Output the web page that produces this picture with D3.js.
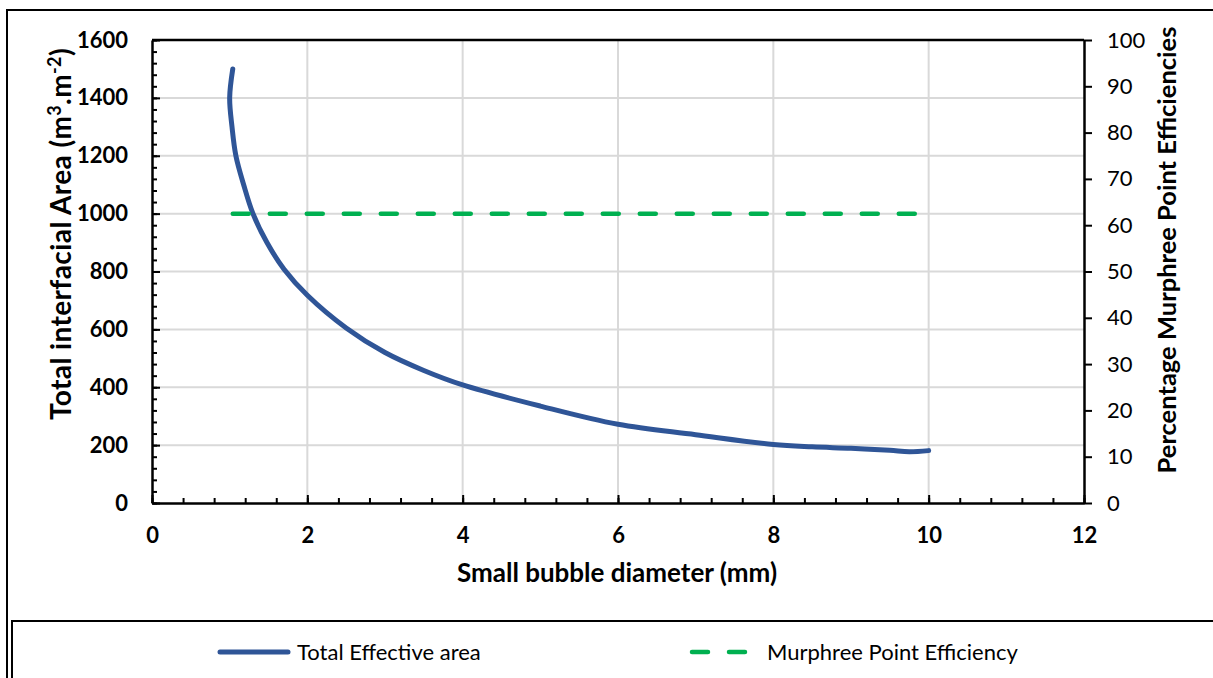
<!DOCTYPE html>
<html>
<head>
<meta charset="utf-8">
<script src="https://cdn.jsdelivr.net/npm/d3@7"></script>
<style>
  body { margin: 0; background: #fff; }
  text { font-family: Lato, "Open Sans", sans-serif; fill: #000; }
</style>
</head>
<body>
<script>
// diameter (mm) vs total effective area
var diameter = [1.04, 1.0, 1.03, 1.08, 1.18, 1.30, 1.48, 1.70, 2.0, 2.5, 3.0, 3.5, 4.0, 5.0, 6.0, 7.0, 8.0, 8.5, 9.0, 9.5, 9.75, 10.0]
var area = [1500, 1400, 1300, 1200, 1100, 1000, 900, 808, 718, 605, 520, 458, 408, 335, 272, 236, 202, 194, 189, 182, 177, 181]

// murphree point efficiency (%) - flat
var effDiameter = [1.04, 2, 3, 4, 5, 6, 7, 8, 9, 10]
var efficiency = [62.5, 62.5, 62.5, 62.5, 62.5, 62.5, 62.5, 62.5, 62.5, 62.5]

var xTicks = [0, 2, 4, 6, 8, 10, 12]
var leftTicks = [0, 200, 400, 600, 800, 1000, 1200, 1400, 1600]
var rightTicks = [0, 10, 20, 30, 40, 50, 60, 70, 80, 90, 100]

var seriesNames = ["Total Effective area", "Murphree Point Efficiency"]

var w = 1213
var h = 678
var blue = "#2f5597"
var green = "#00b050"

var svg = d3.select("body").append("svg")
    .attr("width", w)
    .attr("height", h)

// outer chart border
svg.append("rect")
    .attr("x", 7).attr("y", 10)
    .attr("width", 1230).attr("height", 700)
    .attr("fill", "none").attr("stroke", "#000").attr("stroke-width", 2)

var xScale = d3.scaleLinear().domain([0, 12]).range([152, 1084])
var yLeft = d3.scaleLinear().domain([0, 1600]).range([503, 40])
var yRight = d3.scaleLinear().domain([0, 100]).range([503, 40])

// gridlines
svg.append("g").selectAll("line")
    .data(leftTicks.filter(d => d > 0 && d < 1600))
    .enter().append("line")
    .attr("x1", xScale(0)).attr("x2", xScale(12))
    .attr("y1", d => yLeft(d)).attr("y2", d => yLeft(d))
    .attr("stroke", "#d9d9d9").attr("stroke-width", 2)

svg.append("g").selectAll("line")
    .data(xTicks.filter(d => d > 0 && d < 12))
    .enter().append("line")
    .attr("x1", d => xScale(d)).attr("x2", d => xScale(d))
    .attr("y1", yLeft(0)).attr("y2", yLeft(1600))
    .attr("stroke", "#d9d9d9").attr("stroke-width", 2)

// top border of plot
svg.append("line")
    .attr("x1", xScale(0)).attr("x2", xScale(12))
    .attr("y1", yLeft(1600)).attr("y2", yLeft(1600))
    .attr("stroke", "#000").attr("stroke-width", 2.5)

// minor ticks
var minorY = d3.range(0, 1601, 40)
var minorX = d3.range(0, 12.01, 0.4)

svg.append("g")
    .attr("transform", "translate(" + xScale(0) + ",0)")
    .call(d3.axisLeft(yLeft).tickValues(minorY).tickSize(-5).tickSizeOuter(0).tickFormat(""))
    .call(g => g.select(".domain").remove())
    .selectAll("line").attr("stroke-width", 2)

svg.append("g")
    .attr("transform", "translate(0," + yLeft(0) + ")")
    .call(d3.axisBottom(xScale).tickValues(minorX).tickSize(-5).tickSizeOuter(0).tickFormat(""))
    .call(g => g.select(".domain").remove())
    .selectAll("line").attr("stroke-width", 2)

// left axis
var leftAxis = svg.append("g")
    .attr("transform", "translate(" + xScale(0) + ",0)")
    .call(d3.axisLeft(yLeft).tickValues(leftTicks).tickSize(-8).tickSizeOuter(0).tickPadding(24).tickFormat(d3.format("d")))
leftAxis.select(".domain").attr("stroke-width", 2.5)
leftAxis.selectAll("line").attr("stroke-width", 2)
leftAxis.selectAll("text").attr("font-size", 22).attr("font-weight", "bold")
    .attr("font-family", "Lato, sans-serif")

// bottom axis
var bottomAxis = svg.append("g")
    .attr("transform", "translate(0," + yLeft(0) + ")")
    .call(d3.axisBottom(xScale).tickValues(xTicks).tickSize(-8).tickSizeOuter(0).tickPadding(24))
bottomAxis.select(".domain").attr("stroke-width", 2.5)
bottomAxis.selectAll("line").attr("stroke-width", 2)
bottomAxis.selectAll("text").attr("font-size", 22).attr("font-weight", "bold")
    .attr("font-family", "Lato, sans-serif")

// right axis
var rightAxis = svg.append("g")
    .attr("transform", "translate(" + xScale(12) + ",0)")
    .call(d3.axisRight(yRight).tickValues(rightTicks).tickSize(8).tickSizeOuter(0).tickPadding(15))
rightAxis.select(".domain").attr("stroke-width", 2.5)
rightAxis.selectAll("line").attr("stroke-width", 2)
rightAxis.selectAll("text").attr("font-size", 22)
    .attr("font-family", "Lato, sans-serif")

// axis titles
svg.append("text")
    .attr("transform", "translate(71,234) rotate(-90)")
    .attr("text-anchor", "middle")
    .attr("font-size", 28).attr("font-weight", "bold")
    .attr("letter-spacing", 0.4)
    .html('Total interfacial Area (m<tspan dy="-10" font-size="18">3</tspan><tspan dy="10">.m</tspan><tspan dy="-10" font-size="18">-2</tspan><tspan dy="10">)</tspan>')

svg.append("text")
    .attr("transform", "translate(1176,250) rotate(-90)")
    .attr("text-anchor", "middle")
    .attr("font-size", 25.5).attr("font-weight", "bold")
    .text("Percentage Murphree Point Efficiencies")

svg.append("text")
    .attr("x", 617).attr("y", 582)
    .attr("text-anchor", "middle")
    .attr("font-size", 26).attr("font-weight", "bold")
    .text("Small bubble diameter (mm)")

// series
var areaLine = d3.line()
    .x((d, i) => xScale(diameter[i]))
    .y(d => yLeft(d))
    .curve(d3.curveCatmullRom.alpha(0.5))

svg.append("path")
    .datum(area)
    .attr("d", areaLine)
    .attr("fill", "none")
    .attr("stroke", blue)
    .attr("stroke-width", 5)
    .attr("stroke-linecap", "round")

var effLine = d3.line()
    .x((d, i) => xScale(effDiameter[i]))
    .y(d => yRight(d))

svg.append("path")
    .datum(efficiency)
    .attr("d", effLine)
    .attr("fill", "none")
    .attr("stroke", green)
    .attr("stroke-width", 4.5)
    .attr("stroke-dasharray", "16,21")
    .attr("stroke-linecap", "round")

// legend
svg.append("rect")
    .attr("x", 12).attr("y", 621)
    .attr("width", 1230).attr("height", 100)
    .attr("fill", "#fff").attr("stroke", "#000").attr("stroke-width", 2)

svg.append("line")
    .attr("x1", 220).attr("x2", 288).attr("y1", 652).attr("y2", 652)
    .attr("stroke", blue).attr("stroke-width", 5).attr("stroke-linecap", "round")
svg.append("text")
    .attr("x", 297).attr("y", 660)
    .attr("font-size", 22)
    .text(seriesNames[0])

svg.append("line")
    .attr("x1", 692).attr("x2", 746).attr("y1", 652).attr("y2", 652)
    .attr("stroke", green).attr("stroke-width", 4.5)
    .attr("stroke-dasharray", "16,21").attr("stroke-linecap", "round")
svg.append("text")
    .attr("x", 767).attr("y", 660)
    .attr("font-size", 22)
    .text(seriesNames[1])
</script>
</body>
</html>
